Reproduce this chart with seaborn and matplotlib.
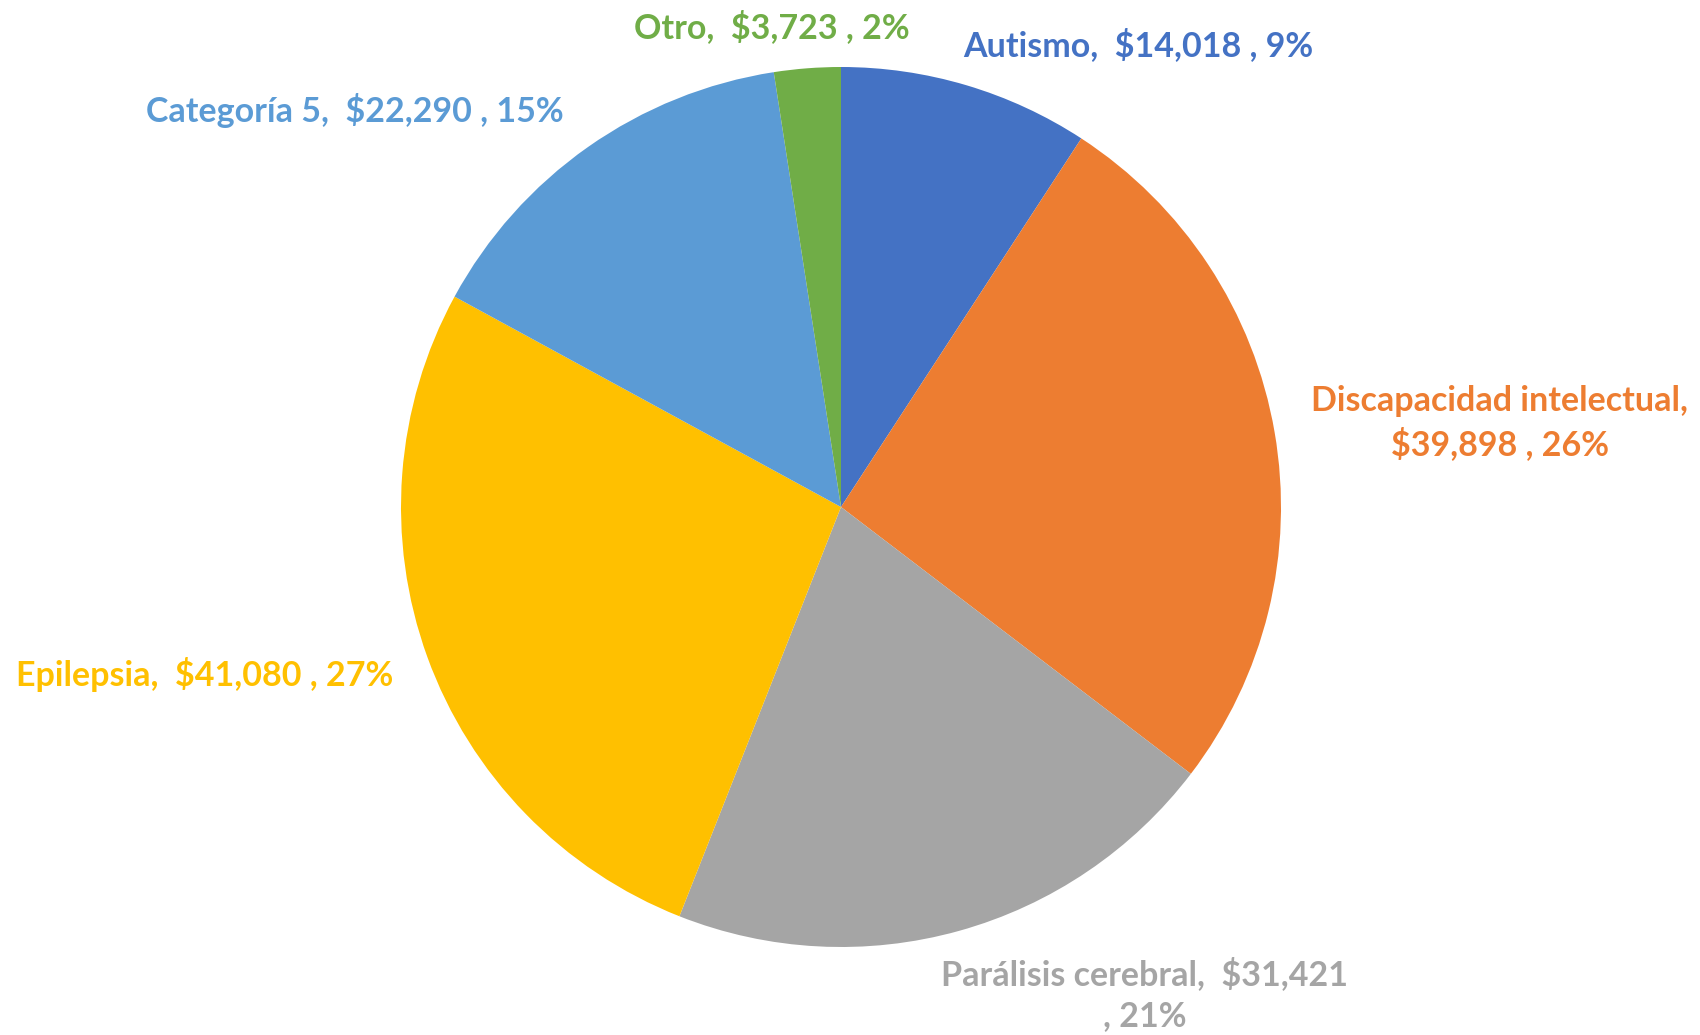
import matplotlib
matplotlib.use("Agg")
import matplotlib.pyplot as plt
import seaborn as sns

# data
categorias = ["Autismo", "Discapacidad intelectual", "Parálisis cerebral",
              "Epilepsia", "Categoría 5", "Otro"]
montos = [14018, 39898, 31421, 41080, 22290, 3723]
porcentajes = ["9%", "26%", "21%", "27%", "15%", "2%"]
colores = ["#4472C4", "#ED7D31", "#A5A5A5", "#FFC000", "#5B9BD5", "#70AD47"]

sns.set_theme(style="white")
plt.rcParams['font.family'] = ['Lato', 'DejaVu Sans']

fig = plt.figure(figsize=(17, 10.35), dpi=100)
ax = fig.add_axes([0, 0, 1, 1])

ax.pie(montos, colors=sns.color_palette(colores), startangle=90, counterclock=False,
       center=(841, 528), radius=440, frame=True,
       wedgeprops=dict(linewidth=0))
ax.set_xlim(0, 1700)
ax.set_ylim(0, 1035)
ax.set_aspect("equal")
ax.axis("off")

# label positions (pixel coords, y from top)
etiquetas = [
    (f"{categorias[0]},  ${montos[0]:,} , {porcentajes[0]}", 1138, 45),
    (f"{categorias[1]},\n${montos[1]:,} , {porcentajes[1]}", 1500, 423),
    (f"{categorias[2]},  ${montos[2]:,}\n, {porcentajes[2]}", 1145, 995),
    (f"{categorias[3]},  ${montos[3]:,} , {porcentajes[3]}", 205, 675),
    (f"{categorias[4]},  ${montos[4]:,} , {porcentajes[4]}", 355, 110),
    (f"{categorias[5]},  ${montos[5]:,} , {porcentajes[5]}", 772, 27),
]
for (txt, x, y), c in zip(etiquetas, colores):
    ax.text(x, 1035 - y, txt, color=c, fontsize=24.5, fontweight="bold",
            ha="center", va="center", linespacing=1.35)

fig.savefig("out.png", dpi=100)
